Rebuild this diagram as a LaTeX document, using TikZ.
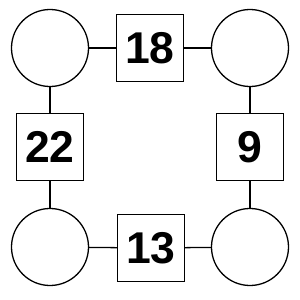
\documentclass[tikz,border=0pt]{standalone}
\usepackage{fontspec}
\setmainfont{Liberation Sans}
\usetikzlibrary{positioning}

\begin{document}
\begin{tikzpicture}[
  x=0.03cm, y=-0.03cm,
  hole/.style={circle, draw, line width=1.1pt, minimum size=2.31cm,
               inner sep=0pt},
  numbox/.style={rectangle, draw, line width=1.1pt, minimum size=2.01cm,
                 inner sep=0pt, font=\fontsize{38pt}{38pt}\selectfont\bfseries},
  link/.style={line width=1.1pt}
]
  \useasboundingbox (0,0) rectangle (300,300);

  \node[hole] (tl) at (50,48)  {};
  \node[hole] (tr) at (250,48) {};
  \node[hole] (bl) at (50,247) {};
  \node[hole] (br) at (250,247) {};

  \node[numbox] (top)    at (150,48)  {18};
  \node[numbox] (bottom) at (151,248) {13};
  \node[numbox] (left)   at (50,147)  {22};
  \node[numbox] (right)  at (250,147) {9};

  \draw[link] (tl) -- (top);
  \draw[link] (top) -- (tr);
  \draw[link] (tl) -- (left);
  \draw[link] (left) -- (bl);
  \draw[link] (tr) -- (right);
  \draw[link] (right) -- (br);
  \draw[link] (bl) -- (bottom);
  \draw[link] (bottom) -- (br);
\end{tikzpicture}
\end{document}
